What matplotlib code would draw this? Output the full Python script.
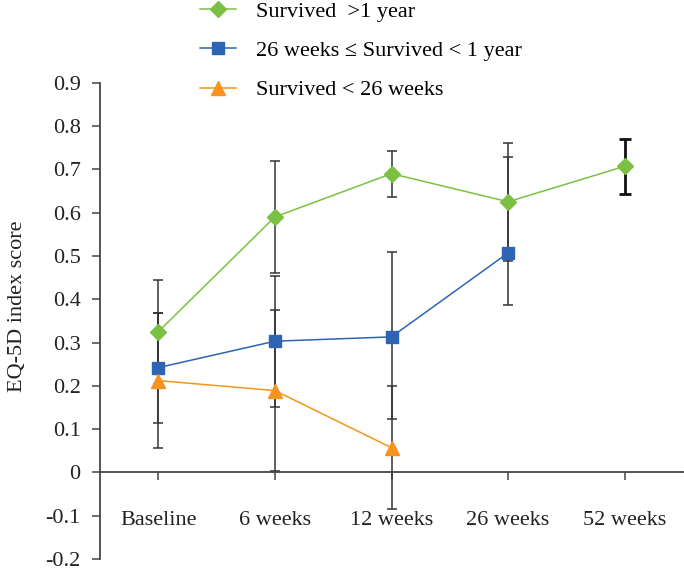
import numpy as np
import matplotlib.pyplot as plt

plt.rcParams['font.family'] = ['Liberation Serif', 'DejaVu Serif']

cats = ['Baseline', '6 weeks', '12 weeks', '26 weeks', '52 weeks']

# survived > 1 year
green = [0.325, 0.59, 0.69, 0.625, 0.707]
green_err = [0.12, 0.13, 0.053, 0.136, 0.064]

# 26 weeks <= survived < 1 year
blue = [0.242, 0.303, 0.313, 0.507]
blue_lo = [0.127, 0.151, 0.19, 0.12]
blue_hi = [0.127, 0.151, 0.195, 0.222]

# survived < 26 weeks
orange = [0.212, 0.189, 0.057]
orange_err = [0.155, 0.185, 0.142]

c_green = '#7AC143'
c_blue = '#2D64B4'
c_orange = '#F7931E'
c_err = '#333333'

fs = 16

fig = plt.figure(figsize=(6.84, 5.71), dpi=100)
ax = fig.add_axes([100/684, 12/571, 583/684, 476.3/571])

x = np.arange(len(cats))
ekw = dict(fmt='none', ecolor=c_err, elinewidth=1.1, capsize=3.8, capthick=1.1, zorder=2)

ax.errorbar(x[:4], green[:4], yerr=green_err[:4], **ekw)
ax.errorbar(x[4:], green[4:], yerr=green_err[4:], fmt='none', ecolor='#111111',
            elinewidth=2, capsize=4, capthick=2, zorder=2)
ax.errorbar(x[:4], blue, yerr=[blue_lo, blue_hi], **ekw)
ax.errorbar(x[:3], orange, yerr=orange_err, **ekw)

l1, = ax.plot(x, green, color=c_green, lw=1.1, marker='D', ms=8.5, zorder=3,
              label='Survived  >1 year')
l2, = ax.plot(x[:4], blue, color=c_blue, lw=1.1, marker='s', ms=9, zorder=3,
              label='26 weeks \u2264 Survived < 1 year')
l3, = ax.plot(x[:3], orange, color=c_orange, lw=1.1, marker='^', ms=10, zorder=3,
              label='Survived < 26 weeks')

ax.set_xlim(-0.5, 4.5)
ax.set_ylim(-0.2, 0.9)
ax.set_yticks(np.arange(-0.2, 0.91, 0.1))
ax.set_yticklabels(['-0.2', '-0.1', '0', '0.1', '0.2', '0.3', '0.4', '0.5',
                    '0.6', '0.7', '0.8', '0.9'])
ax.set_xticks(x)
ax.set_xticklabels(cats)

ax.spines['top'].set_visible(False)
ax.spines['right'].set_visible(False)
ax.spines['bottom'].set_position(('data', 0))
ax.spines['bottom'].set_color('#444444')
ax.spines['left'].set_color('#444444')
ax.spines['bottom'].set_linewidth(1.3)
ax.spines['left'].set_linewidth(1.3)

ax.tick_params(axis='y', direction='out', length=6, width=1.1, color='#444444',
               labelsize=fs, pad=8, labelcolor='#222222')
ax.tick_params(axis='x', direction='out', length=6, width=1.1, color='#444444',
               labelsize=fs, pad=22, labelcolor='#222222')

ax.set_ylabel('EQ-5D index score', fontsize=fs, color='#222222')
ax.yaxis.set_label_coords(-0.125, 0.53)

fig.legend(handles=[l1, l2, l3], loc='upper left', bbox_to_anchor=(200/684, 1 - 1/571),
           frameon=False, fontsize=fs, handlelength=1.6, handletextpad=0.9,
           labelspacing=0.85, borderpad=0.0, borderaxespad=0.0)

fig.savefig('out.png', dpi=100)
